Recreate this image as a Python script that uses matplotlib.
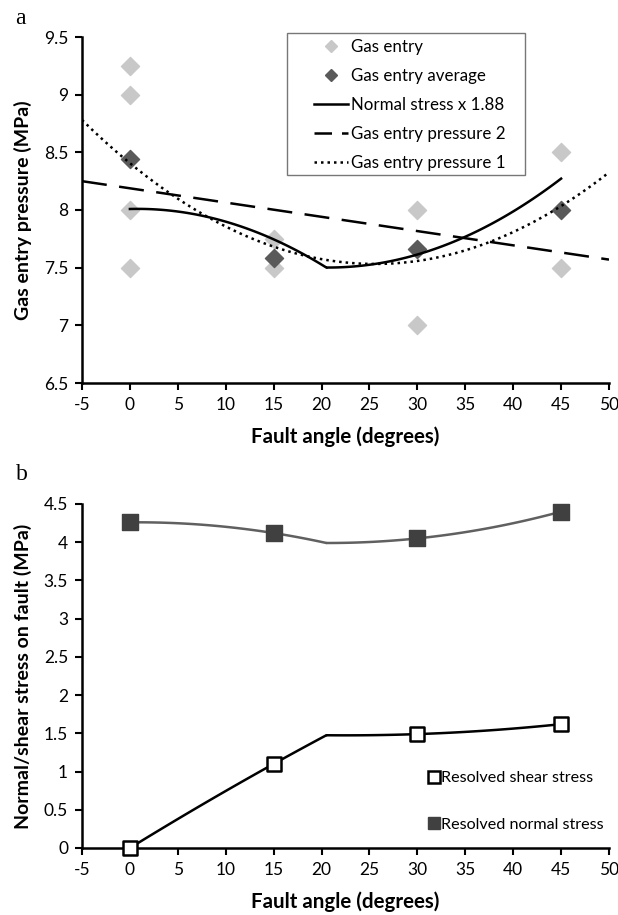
import numpy as np
import matplotlib
matplotlib.use("Agg")
import matplotlib.pyplot as plt
from matplotlib.lines import Line2D
from matplotlib.patches import Rectangle

plt.rcParams['font.family'] = ['Lato', 'DejaVu Sans']

# panel a data
angle_entry = [0, 0, 0, 0, 15, 15, 30, 30, 45, 45]
gas_entry = [9.25, 9.0, 8.0, 7.5, 7.75, 7.5, 8.0, 7.0, 8.5, 7.5]
angle_avg = [0, 15, 30, 45]
gas_avg = [8.44, 7.58, 7.66, 8.0]
gep2_x = [-5, 50]
gep2_y = [8.25, 7.57]

# panel b data (20.5 is the unmarked kink point)
angle_stress = [0, 15, 20.5, 30, 45]
normal_stress = [4.26, 4.12, 3.99, 4.05, 4.40]
shear_stress = [0.0, 1.10, 1.475, 1.49, 1.62]
normal_factor = 1.88
marked = [0, 1, 3, 4]

xticks = list(range(-5, 55, 5))

W, H = 618, 915


# smooth curve: a quadratic through each triple of points, joined at the kink
def smooth(x, y, n=60):
    x = np.asarray(x, float)
    y = np.asarray(y, float)
    ox, oy = [], []
    for sl in (slice(0, 3), slice(2, 5)):
        c = np.polyfit(x[sl], y[sl], 2)
        xx = np.linspace(x[sl][0], x[sl][-1], n)
        ox.extend(xx)
        oy.extend(np.polyval(c, xx))
    return np.array(ox), np.array(oy)


def style_axes(ax):
    for s in ["top", "right"]:
        ax.spines[s].set_visible(False)
    for s in ["left", "bottom"]:
        ax.spines[s].set_linewidth(1.8)
    ax.tick_params(direction="out", length=5, width=1.5, labelsize=12.5, pad=5)
    ax.set_xlim(-5, 50)
    ax.set_xticks(xticks)
    ax.set_xticklabels([str(v) for v in xticks])
    ax.set_xlabel("Fault angle (degrees)", fontsize=14.8, fontweight="bold")
    ax.xaxis.set_label_coords(0.5, -0.125)
    ax.yaxis.set_label_coords(-0.095, 0.5)


fig = plt.figure(figsize=(W / 100, H / 100), dpi=100)

# ---- panel a
ax1 = fig.add_axes([82 / W, 1 - 383 / H, 527 / W, 346 / H])
style_axes(ax1)
ax1.set_ylim(6.5, 9.5)
ax1.set_yticks([6.5, 7, 7.5, 8, 8.5, 9, 9.5])
ax1.set_yticklabels(["6.5", "7", "7.5", "8", "8.5", "9", "9.5"])
ax1.set_ylabel("Gas entry pressure (MPa)", fontsize=14, fontweight="bold")

ax1.scatter(angle_entry, gas_entry, marker="D", s=85, color="#c8c8c8", zorder=3)
ax1.scatter(angle_avg, gas_avg, marker="D", s=85, color="#5a5a5a", zorder=4)

sx, sy = smooth(angle_stress, np.array(normal_stress) * normal_factor)
ax1.plot(sx, sy, color="black", lw=1.8, zorder=5)
ax1.plot(gep2_x, gep2_y, color="black", lw=1.8, dashes=(10, 5), zorder=5)
coef = np.polyfit(angle_avg, gas_avg, 2)
fx = np.linspace(-5, 50, 200)
ax1.plot(fx, np.polyval(coef, fx), color="black", lw=1.8, linestyle=(0, (1, 1.6)), zorder=5)

handles = [
    Line2D([], [], marker="D", color="#c8c8c8", linestyle="none", markersize=6.5),
    Line2D([], [], marker="D", color="#5a5a5a", linestyle="none", markersize=6.5),
    Line2D([], [], color="black", lw=1.8),
    Line2D([], [], color="black", lw=1.8, dashes=(7, 4)),
    Line2D([], [], color="black", lw=1.8, linestyle=(0, (1, 1.6))),
]
labels = ["Gas entry", "Gas entry average", "Normal stress x 1.88",
          "Gas entry pressure 2", "Gas entry pressure 1"]
fig.patches.append(Rectangle((287 / W, 1 - 175 / H), 238 / W, 142 / H,
                             transform=fig.transFigure, fill=False,
                             edgecolor="#777777", lw=1.0))
fig.legend(handles, labels, loc="upper left", bbox_to_anchor=(314 / W, 1 - 39 / H),
           fontsize=12.2, frameon=False, handlelength=2.0, handletextpad=0.2,
           labelspacing=0.76, borderpad=0, borderaxespad=0)

fig.text(20 / W, 1 - 18 / H, "a", fontsize=17, family="Liberation Serif",
         ha="center", va="center")

# ---- panel b
ax2 = fig.add_axes([82 / W, 1 - 848 / H, 527 / W, 344 / H])
style_axes(ax2)
ax2.set_ylim(0, 4.5)
yt = [0, 0.5, 1, 1.5, 2, 2.5, 3, 3.5, 4, 4.5]
ax2.set_yticks(yt)
ax2.set_yticklabels(["0", "0.5", "1", "1.5", "2", "2.5", "3", "3.5", "4", "4.5"])
ax2.set_ylabel("Normal/shear stress on fault (MPa)", fontsize=14, fontweight="bold")

nx, ny = smooth(angle_stress, normal_stress)
ax2.plot(nx, ny, color="#606060", lw=1.8, zorder=3)
hx, hy = smooth(angle_stress, shear_stress)
ax2.plot(hx, hy, color="black", lw=1.8, zorder=3)
mx = [angle_stress[i] for i in marked]
ax2.scatter(mx, [normal_stress[i] for i in marked], marker="s", s=120,
            color="#404040", zorder=4, clip_on=False)
ax2.scatter(mx, [shear_stress[i] for i in marked], marker="s", s=110,
            facecolor="white", edgecolor="black", linewidth=1.8, zorder=4, clip_on=False)

handles2 = [
    Line2D([], [], marker="s", markerfacecolor="white", markeredgecolor="black",
           markeredgewidth=1.8, markersize=8, linestyle="none"),
    Line2D([], [], marker="s", color="#404040", markersize=9, linestyle="none"),
]
fig.legend(handles2, ["Resolved shear stress", "Resolved normal stress"],
           loc="upper left", bbox_to_anchor=(429 / W, 1 - 771 / H), frameon=False,
           fontsize=11.6, handlelength=0.6, handletextpad=0.15, labelspacing=2.0,
           borderpad=0, borderaxespad=0)

fig.text(22 / W, 1 - 475 / H, "b", fontsize=17, family="Liberation Serif",
         ha="center", va="center")

fig.savefig("out.png", dpi=100)
